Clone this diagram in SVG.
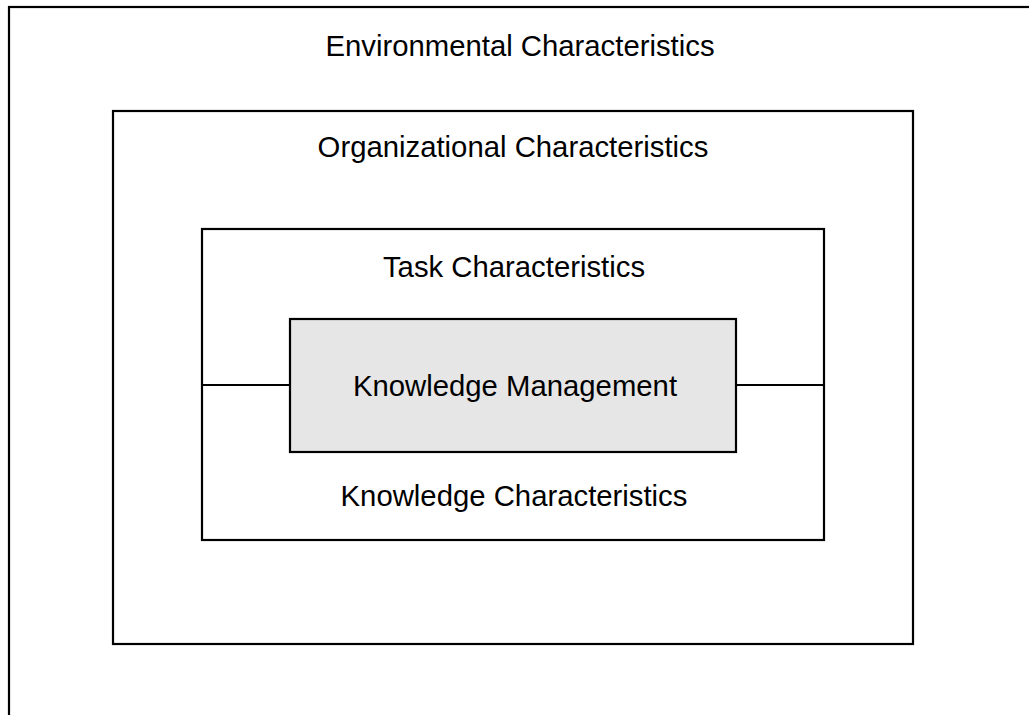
<svg xmlns="http://www.w3.org/2000/svg" width="1029" height="715" viewBox="0 0 1029 715">
<style>
.box{fill:none;stroke:#000;stroke-width:2.2}
.km{fill:#e6e6e6;stroke:#000;stroke-width:2.2}
.lbl{font-family:"Liberation Sans",Arial,Helvetica,sans-serif;font-size:29.3px;fill:#000;text-anchor:middle}
.conn{stroke:#000;stroke-width:2.2;fill:none}
</style>
<rect width="1029" height="715" fill="#fff"/>
<g id="environmental">
<rect class="box" x="9" y="7" width="1100" height="800"/>
<text class="lbl" x="520" y="56">Environmental Characteristics</text>
</g>
<g id="organizational">
<rect class="box" x="113" y="111" width="800" height="533"/>
<text class="lbl" x="513" y="157">Organizational Characteristics</text>
</g>
<g id="task">
<rect class="box" x="202" y="229" width="622" height="311"/>
<text class="lbl" x="514" y="277">Task Characteristics</text>
<text class="lbl" x="514" y="506">Knowledge Characteristics</text>
</g>
<g id="connectors">
<line class="conn" x1="202" y1="385" x2="290" y2="385"/>
<line class="conn" x1="736" y1="385" x2="824" y2="385"/>
</g>
<g id="knowledge-management">
<rect class="km" x="290" y="319" width="446" height="133"/>
<text class="lbl" x="515" y="396">Knowledge Management</text>
</g>
</svg>
